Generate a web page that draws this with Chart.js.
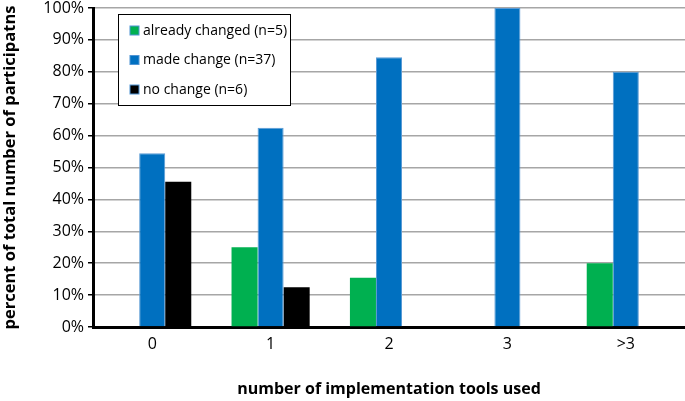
<!DOCTYPE html>
<html>
<head>
<meta charset="utf-8">
<script src="https://cdn.jsdelivr.net/npm/chart.js@4"></script>
<style>
  html, body { margin: 0; padding: 0; background: #fff; }
  #wrap { width: 685px; height: 401px; }
</style>
</head>
<body>
<div id="wrap"><canvas id="toolsChart"></canvas></div>
<script>
// data (percent of participants)
const categories = ['0', '1', '2', '3', '>3'];
const alreadyChanged = [0, 25, 15.4, 0, 20];
const madeChange = [54.5, 62.5, 84.6, 100, 80];
const noChange = [45.5, 12.5, 0, 0, 0];
const seriesNames = ['already changed (n=5)', 'made change (n=37)', 'no change (n=6)'];
const seriesColors = ['#00b050', '#0070c0', '#000000'];

const FONT = '"Open Sans", Lato, sans-serif';

// legend box drawn inside the plot, top left
const boxLegend = {
    id: 'boxLegend',
    afterDraw(chart) {
        const ctx = chart.ctx;
        const x = 118, y = 14, w = 172, h = 91;
        ctx.save();
        ctx.fillStyle = '#fff';
        ctx.fillRect(x, y, w, h);
        ctx.strokeStyle = '#000';
        ctx.lineWidth = 1;
        ctx.strokeRect(x + 0.5, y + 0.5, w, h);
        ctx.font = '14px ' + FONT;
        ctx.textBaseline = 'middle';
        chart.data.datasets.forEach((ds, i) => {
            const cy = y + 17 + i * 29.5;
            ctx.fillStyle = ds.backgroundColor;
            ctx.fillRect(x + 12, cy - 5, 9, 9);
            ctx.strokeStyle = '#4f94d4';
            ctx.strokeRect(x + 12, cy - 5, 9, 9);
            ctx.fillStyle = '#000';
            ctx.fillText(ds.label, x + 25, cy);
        });
        ctx.restore();
    }
};

new Chart(document.getElementById('toolsChart'), {
    type: 'bar',
    data: {
        labels: categories,
        datasets: [
            { label: seriesNames[0], data: alreadyChanged, backgroundColor: seriesColors[0] },
            { label: seriesNames[1], data: madeChange, backgroundColor: seriesColors[1], borderColor: '#5b9bd5', borderWidth: 1, borderSkipped: 'bottom' },
            { label: seriesNames[2], data: noChange, backgroundColor: seriesColors[2] }
        ]
    },
    options: {
        responsive: true,
        maintainAspectRatio: false,
        animation: false,
        layout: { padding: { top: 0, right: 0, left: 0, bottom: 0 } },
        datasets: { bar: { categoryPercentage: 0.66, barPercentage: 1.0 } },
        plugins: {
            legend: { display: false },
            tooltip: { enabled: false }
        },
        scales: {
            x: {
                grid: { display: true, drawOnChartArea: false, drawTicks: false, color: 'rgba(0,0,0,0)' },
                border: { display: true, color: '#000', width: 3 },
                ticks: { color: '#000', font: { family: FONT, size: 16 }, padding: 8 },
                title: {
                    display: true,
                    text: 'number of implementation tools used',
                    color: '#000',
                    font: { family: FONT, size: 16, weight: 'bold' },
                    padding: { top: 0, bottom: 2 }
                },
                afterFit(scale) { scale.height = 74; }
            },
            y: {
                min: 0,
                max: 100,
                ticks: {
                    stepSize: 10,
                    color: '#000',
                    font: { family: FONT, size: 16, lineHeight: 0.5 },
                    padding: 4,
                    callback: v => v + '%'
                },
                grid: { color: '#a6a6a6', lineWidth: 1.5, tickColor: '#000', tickLength: 5 },
                border: { display: true, color: '#000', width: 3 },
                title: {
                    display: true,
                    text: 'percent of total number of participatns',
                    color: '#000',
                    font: { family: FONT, size: 16.5, weight: 'bold' },
                    padding: { top: 0, bottom: 0 }
                },
                afterFit(scale) { scale.width = 93; }
            }
        }
    },
    plugins: [boxLegend]
});
</script>
</body>
</html>
